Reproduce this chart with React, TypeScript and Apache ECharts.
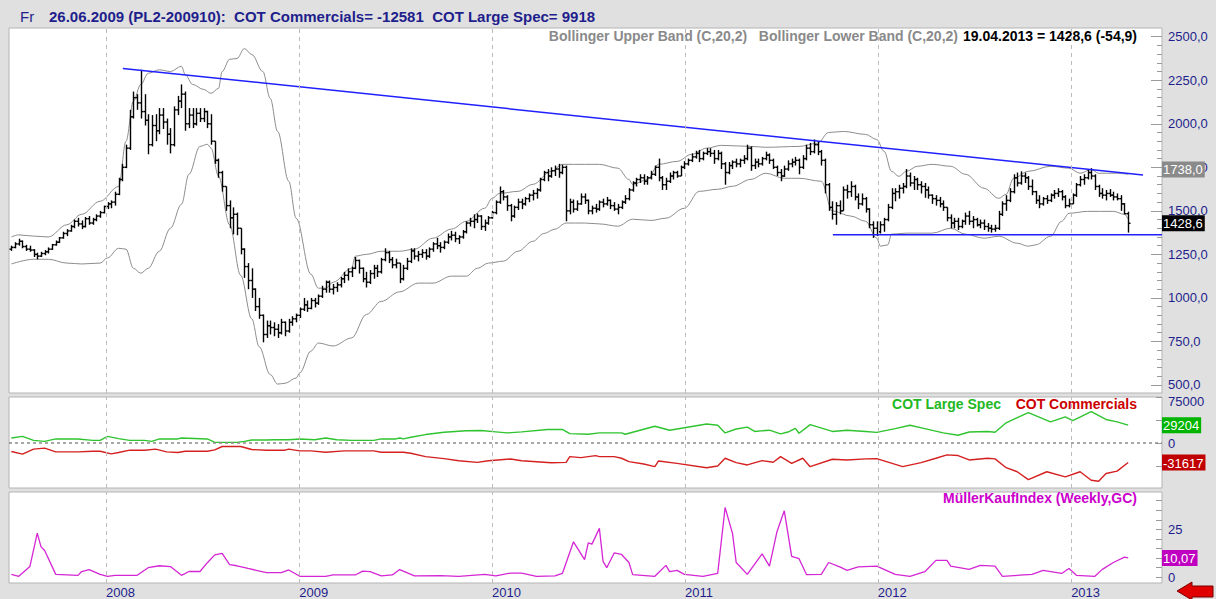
import React, { useEffect, useRef } from 'react';
import * as echarts from 'echarts';

// ---------- data ----------
const FIRST_WEEK = Date.UTC(2007, 6, 6); // Friday 06.07.2007
const DAY = 86400000;
const weekTime = (i: number) => FIRST_WEEK + i * 7 * DAY;

const openP = [
  1280,1290,1310,1325,1295,1280,1275,1250,1240,1255,1265,1280,1305,
  1320,1345,1370,1385,1410,1440,1425,1410,1455,1430,1450,1470,1490,
  1525,1540,1550,1595,1680,1750,1860,2040,2150,2120,2070,2020,1880,
  1990,1960,2050,2010,1940,1880,2080,2130,2170,2000,2050,2000,2060,
  2030,2070,2000,1900,1790,1720,1640,1530,1460,1480,1400,1280,1180,
  1100,1050,950,900,790,840,830,820,800,860,810,860,880,
  900,935,960,940,985,970,1010,1050,1090,1050,1060,1075,1110,
  1130,1150,1170,1215,1170,1110,1090,1140,1170,1150,1220,1260,1220,
  1190,1200,1110,1170,1210,1270,1240,1250,1260,1240,1280,1310,1300,
  1290,1320,1350,1360,1340,1350,1380,1430,1440,1450,1470,1410,1430,
  1460,1490,1550,1610,1580,1530,1470,1520,1550,1540,1570,1590,1600,
  1620,1680,1720,1700,1730,1740,1720,1750,1500,1550,1510,1540,1580,
  1560,1500,1515,1510,1550,1540,1560,1530,1510,1520,1550,1570,1620,
  1660,1680,1690,1670,1690,1710,1750,1690,1650,1670,1700,1720,1700,
  1750,1770,1790,1810,1830,1800,1830,1840,1830,1800,1830,1770,1720,
  1760,1780,1770,1790,1800,1860,1760,1780,1770,1800,1820,1790,1750,
  1720,1700,1740,1770,1780,1790,1750,1800,1860,1840,1880,1840,1790,
  1650,1520,1480,1530,1500,1620,1610,1640,1580,1540,1570,1510,1420,
  1400,1380,1420,1450,1520,1600,1610,1630,1640,1700,1660,1680,1650,
  1640,1620,1590,1570,1560,1540,1520,1460,1430,1440,1410,1440,1470,
  1440,1450,1420,1430,1410,1400,1395,1400,1480,1540,1560,1610,1690,
  1660,1700,1690,1640,1610,1560,1540,1570,1560,1590,1600,1610,1580,
  1530,1540,1590,1650,1680,1690,1720,1700,1640,1600,1590,1600,1590,
  1580,1570,1540,1483.5,
];
const highP = [
  1300,1320,1340,1330,1305,1300,1280,1260,1265,1275,1290,1310,1330,
  1350,1380,1395,1420,1450,1460,1445,1465,1470,1460,1480,1500,1530,
  1550,1560,1610,1690,1770,1880,2080,2185,2170,2310,2170,2055,2050,
  2055,2090,2090,2030,1975,2100,2160,2226,2185,2090,2090,2090,2090,
  2090,2075,2055,1900,1800,1730,1640,1560,1520,1490,1400,1285,1200,
  1170,1055,1000,905,870,870,860,850,880,865,880,895,910,
  945,1000,985,1000,1000,1020,1070,1100,1100,1080,1090,1120,1150,
  1170,1180,1235,1220,1175,1150,1160,1190,1190,1230,1285,1270,1235,
  1225,1200,1190,1230,1285,1285,1270,1280,1280,1290,1320,1345,1320,
  1330,1370,1385,1380,1360,1390,1440,1460,1480,1485,1475,1450,1470,
  1500,1560,1640,1620,1590,1540,1530,1570,1570,1580,1600,1620,1630,
  1690,1730,1740,1750,1760,1770,1765,1760,1570,1565,1560,1600,1600,
  1565,1530,1540,1560,1570,1580,1565,1550,1540,1560,1590,1630,1670,
  1690,1710,1710,1700,1730,1760,1800,1700,1690,1720,1730,1730,1760,
  1785,1800,1830,1845,1850,1840,1860,1860,1850,1850,1840,1780,1780,
  1790,1800,1800,1820,1880,1870,1800,1800,1810,1840,1830,1800,1760,
  1740,1760,1790,1800,1810,1800,1820,1880,1890,1910,1900,1850,1800,
  1660,1555,1550,1560,1640,1650,1670,1650,1600,1600,1580,1515,1440,
  1440,1440,1460,1540,1630,1630,1650,1660,1740,1720,1700,1690,1670,
  1660,1640,1595,1590,1580,1560,1520,1480,1460,1460,1450,1490,1500,
  1470,1460,1450,1450,1430,1420,1420,1500,1555,1590,1630,1710,1720,
  1727,1720,1700,1680,1615,1590,1580,1590,1600,1620,1630,1620,1590,
  1570,1600,1660,1700,1710,1740,1745,1710,1650,1630,1620,1625,1610,
  1600,1590,1545,1495,
];
const lowP = [
  1270,1285,1300,1285,1270,1265,1235,1222,1235,1245,1255,1275,1300,
  1315,1340,1355,1380,1400,1410,1395,1405,1420,1420,1440,1460,1485,
  1510,1515,1530,1590,1670,1745,1850,2030,2080,2030,1990,1825,1870,
  1900,1940,1970,1880,1830,1870,2050,2090,1960,1975,1975,1990,2010,
  2010,1975,1880,1770,1690,1610,1500,1400,1365,1360,1250,1115,1050,
  1000,925,880,745,770,790,780,770,790,780,800,840,860,
  885,925,920,935,945,960,1000,1030,1030,1020,1035,1060,1085,
  1100,1120,1165,1140,1090,1060,1080,1110,1120,1140,1210,1200,1170,
  1170,1085,1100,1160,1200,1220,1210,1230,1220,1230,1265,1280,1260,
  1280,1310,1330,1320,1310,1340,1370,1410,1400,1430,1390,1385,1420,
  1455,1480,1540,1560,1500,1440,1460,1505,1510,1530,1550,1560,1570,
  1610,1670,1670,1690,1700,1690,1710,1440,1480,1490,1500,1535,1540,
  1480,1480,1490,1500,1520,1530,1510,1500,1480,1510,1540,1560,1610,
  1640,1660,1650,1650,1680,1700,1670,1620,1620,1660,1680,1690,1700,
  1740,1760,1780,1800,1780,1790,1820,1810,1770,1790,1740,1650,1710,
  1740,1750,1750,1770,1790,1730,1740,1750,1760,1790,1770,1740,1700,
  1670,1695,1730,1750,1760,1710,1740,1790,1820,1830,1820,1760,1600,
  1500,1450,1420,1480,1500,1570,1580,1560,1510,1530,1490,1400,1345,
  1355,1370,1380,1440,1510,1555,1570,1600,1630,1640,1620,1620,1600,
  1575,1570,1540,1530,1520,1500,1440,1400,1400,1390,1400,1420,1420,
  1400,1410,1400,1390,1380,1375,1380,1390,1470,1500,1550,1600,1640,
  1650,1660,1620,1590,1540,1515,1530,1540,1550,1570,1580,1560,1515,
  1520,1540,1580,1640,1650,1680,1680,1620,1580,1570,1560,1580,1560,
  1560,1500,1480,1375,
];
const closeP = [
  1290,1310,1325,1295,1280,1275,1250,1240,1255,1265,1280,1305,1320,
  1345,1370,1385,1410,1440,1425,1410,1455,1430,1450,1470,1490,1525,
  1540,1550,1595,1680,1750,1860,2040,2150,2120,2070,2020,1880,1990,
  1960,2050,2010,1940,1880,2080,2130,2170,2000,2050,2000,2060,2030,
  2070,2000,1900,1790,1720,1640,1530,1460,1480,1400,1280,1180,1100,
  1050,950,900,790,840,830,820,800,860,810,860,880,900,
  935,960,940,985,970,1010,1050,1090,1050,1060,1075,1110,1130,
  1150,1170,1215,1170,1110,1090,1140,1170,1150,1220,1260,1220,1190,
  1200,1110,1170,1210,1270,1240,1250,1260,1240,1280,1310,1300,1290,
  1320,1350,1360,1340,1350,1380,1430,1440,1450,1470,1410,1430,1460,
  1490,1550,1610,1580,1530,1470,1520,1550,1540,1570,1590,1600,1620,
  1680,1720,1700,1730,1740,1720,1750,1500,1550,1510,1540,1580,1560,
  1500,1515,1510,1550,1540,1560,1530,1510,1520,1550,1570,1620,1660,
  1680,1690,1670,1690,1710,1750,1690,1650,1670,1700,1720,1700,1750,
  1770,1790,1810,1830,1800,1830,1840,1830,1800,1830,1770,1720,1760,
  1780,1770,1790,1800,1860,1760,1780,1770,1800,1820,1790,1750,1720,
  1700,1740,1770,1780,1790,1750,1800,1860,1840,1880,1840,1790,1650,
  1520,1480,1530,1500,1620,1610,1640,1580,1540,1570,1510,1420,1400,
  1380,1420,1450,1520,1600,1610,1630,1640,1700,1660,1680,1650,1640,
  1620,1590,1570,1560,1540,1520,1460,1430,1440,1410,1440,1470,1440,
  1450,1420,1430,1410,1400,1395,1400,1480,1540,1560,1610,1690,1660,
  1700,1690,1640,1610,1560,1540,1570,1560,1590,1600,1610,1580,1530,
  1540,1590,1650,1680,1690,1720,1700,1640,1600,1590,1600,1590,1580,
  1570,1540,1483.5,1428.6,
];

// Bollinger bands: [week index, value]
const upperBand: [number, number][] = [
  [0,1350],[2,1362],[6,1355],[10,1350],[15,1420],[19,1480],[24,1555],[29,1640],[31,1900],[33,2130],
  [35,2226],[37,2290],[40,2310],[43,2300],[46,2330],[47,2283],[49,2226],[52,2197],[54,2175],[56,2203],
  [57,2300],[59,2370],[61,2375],[63,2432],[65,2398],[68,2300],[70,2146],[72,1956],[75,1670],[77,1458],
  [81,1136],[83,1056],[85,1056],[87,1090],[92,1170],[93,1240],[96,1250],[100,1268],[105,1268],[109,1280],
  [114,1343],[119,1395],[123,1440],[128,1515],[130,1572],[132,1600],[137,1612],[141,1652],[146,1727],[149,1767],
  [155,1767],[159,1767],[164,1745],[167,1680],[168,1652],[172,1680],[175,1767],[180,1784],[184,1825],[188,1860],
  [192,1876],[200,1870],[204,1865],[213,1870],[218,1888],[221,1950],[225,1956],[231,1939],[234,1910],[236,1842],
  [238,1727],[240,1698],[242,1727],[245,1756],[249,1767],[254,1756],[258,1710],[263,1630],[267,1572],[269,1595],
  [271,1687],[275,1727],[281,1756],[286,1745],[289,1716],[292,1738],[294,1716],[299,1716],[302,1710],
];
const lowerBand: [number, number][] = [
  [0,1195],[6,1222],[10,1222],[15,1200],[19,1195],[24,1200],[26,1230],[29,1285],[31,1280],[33,1170],
  [35,1142],[37,1170],[40,1268],[43,1400],[46,1538],[48,1710],[51,1870],[53,1882],[54,1860],[56,1700],
  [59,1420],[62,1130],[65,880],[67,720],[70,560],[72,505],[74,510],[77,540],[78,570],[81,695],
  [83,741],[87,724],[92,770],[96,905],[100,980],[105,1035],[110,1085],[114,1085],[119,1125],[123,1125],
  [126,1170],[129,1200],[133,1211],[137,1268],[141,1325],[144,1370],[147,1395],[150,1430],[155,1430],[159,1425],
  [164,1412],[168,1452],[173,1445],[177,1458],[182,1515],[186,1612],[191,1624],[195,1641],[200,1681],[204,1716],
  [209,1687],[213,1687],[219,1670],[222,1500],[227,1470],[231,1440],[234,1343],[235,1297],[237,1305],[238,1366],
  [242,1372],[249,1372],[254,1400],[258,1366],[263,1343],[267,1354],[272,1314],[275,1297],[277,1305],[281,1354],
  [284,1440],[286,1486],[291,1497],[298,1497],[301,1480],[302,1452],
];

// Trend lines
const resistanceDates = ['2008-02-02', '2013-05-17'];
const resistanceValues = [2318, 1706];
const supportDates = ['2011-10-08', '2013-06-22'];
const supportValues = [1363, 1363];

// COT (weekly index, contracts)
const cotLargeSpec: [number, number][] = [
  [0,8400],[3,11000],[6,4400],[9,2800],[12,6800],[18,6800],[22,4400],[24,4400],[26,11000],[29,7300],
  [32,4400],[36,4400],[38,2800],[40,6800],[45,6800],[46,8400],[53,6800],[55,1200],[61,1200],[63,2800],
  [65,5000],[69,5000],[71,5500],[75,5500],[78,6800],[82,5500],[85,8400],[88,5500],[92,4400],[98,4400],
  [100,6800],[104,6800],[105,8400],[106,6800],[108,9500],[112,13900],[117,17700],[123,20000],[127,20500],[131,18300],
  [134,16600],[138,18300],[145,22200],[149,22200],[151,15500],[156,14400],[159,16600],[165,16600],[166,14400],[170,21000],
  [174,27400],[178,21000],[182,25000],[188,31000],[191,29000],[193,16600],[196,23000],[199,26000],[201,19000],[205,21000],
  [208,15000],[210,18000],[212,24000],[213,16000],[216,30000],[222,19000],[226,21000],[231,19000],[234,17500],[239,23500],
  [243,29000],[247,23500],[252,16600],[256,12800],[259,18000],[264,19000],[266,17700],[269,33000],[272,41300],[275,49500],
  [281,34600],[285,42800],[287,36700],[292,51100],[296,38500],[299,34600],[302,29204],
];
const cotCommercials: [number, number][] = [
  [0,-13700],[3,-18000],[6,-9800],[9,-8200],[12,-14300],[18,-14300],[22,-13200],[24,-13200],[27,-17500],[29,-15300],
  [32,-11500],[36,-11500],[39,-9800],[42,-14300],[45,-15300],[47,-13200],[53,-13200],[55,-11000],[57,-5500],[62,-5500],
  [65,-10400],[69,-11500],[74,-11500],[75,-9800],[78,-12600],[81,-12600],[85,-14800],[90,-12600],[98,-12600],[100,-14800],
  [106,-14800],[108,-16500],[112,-22000],[117,-25300],[121,-28600],[126,-31300],[129,-28600],[135,-25800],[138,-28600],[146,-31900],
  [150,-31300],[151,-22000],[154,-23600],[158,-20400],[159,-21900],[163,-21900],[165,-24600],[167,-30100],[171,-33900],[174,-38300],
  [175,-29000],[180,-32900],[188,-40000],[191,-37200],[193,-24600],[196,-31700],[199,-35500],[203,-28400],[206,-31200],[208,-21900],
  [211,-32900],[214,-24600],[216,-38300],[222,-26300],[226,-27400],[231,-25700],[234,-25200],[241,-38300],[246,-31700],[250,-24600],
  [253,-19100],[256,-20200],[259,-27400],[264,-24600],[266,-25700],[269,-40000],[272,-46600],[275,-59300],[280,-46600],[285,-54800],
  [289,-46600],[292,-60300],[294,-62000],[296,-49400],[299,-45500],[302,-31617],
];

// MüllerKaufIndex
const mki: [number, number][] = [
  [0,1.5],[2,0.5],[5,5.6],[7,23],[8,16],[9,14],[12,1.5],[18,1],[19,3],[21,4],
  [24,1.5],[26,0.5],[28,1],[34,1],[37,5],[40,6],[43,5.6],[46,1],[48,3],[51,3],
  [53,7.6],[55,11.7],[57,12.5],[59,6.6],[61,6],[64,4.6],[69,2.4],[73,2.4],[75,3.8],[78,0.5],
  [85,0.5],[87,1.2],[93,1.2],[95,3.2],[97,2.9],[100,0.7],[103,1.2],[105,4],[109,0.7],[116,0.9],
  [121,0.5],[128,1.5],[131,0.7],[135,2.2],[138,2.2],[142,0.5],[147,0.7],[149,2],[152,18.5],[155,9.2],
  [156,17.9],[157,17.3],[159,25.5],[160,8.3],[161,5],[163,12.7],[165,11.9],[167,7.7],[168,1.4],[174,0.5],
  [177,6.2],[178,2.9],[180,3.6],[182,1.5],[187,0.5],[191,2],[193,36.4],[195,22.9],[196,7.7],[199,1.5],
  [203,12.2],[205,5.8],[207,23.6],[209,34.7],[211,10.9],[213,9.7],[215,1.4],[219,1.5],[221,7.7],[224,5.4],
  [226,3.6],[229,5.4],[234,5.8],[239,1.5],[243,0.5],[247,2.9],[250,8.8],[253,8.8],[254,5.8],[259,4.1],
  [262,6.2],[266,5.8],[268,0.5],[276,1.5],[279,3.6],[284,2],[286,4.6],[288,1],[293,0.5],[295,4.1],
  [298,7.7],[301,10.5],[302,10.07],
];

const years = [2008, 2009, 2010, 2011, 2012, 2013];
const priceTicks = [500, 750, 1000, 1250, 1500, 1750, 2000, 2250, 2500];
const priceMinorTicks = Array.from({ length: 41 }, (_, k) => 500 + k * 50);
const priceBoxValues = [1738.0, 1428.6];
const priceBoxColors = ['#8a8a8a', '#000000'];
const cotTicks = [75000, 37500, 0, -37500];
const cotLabels = [75000, 0];
const cotBoxValues = [29204, -31617];
const cotBoxColors = ['#00b400', '#c00000'];
const mkiTicks = [0, 5, 10, 15, 20, 25, 30, 35, 40];
const mkiLabels = [0, 25];
const mkiBoxValues = [10.07];
const mkiBoxColors = ['#c000c0'];

// ---------- styling ----------
const FONT = "'Liberation Sans', Arial, sans-serif";
const NAVY = '#1e1e8c';
const BG = '#e0e0e0';
const X_MIN = Date.UTC(2007, 6, 1, 12);
const X_MAX = Date.UTC(2013, 5, 22);
const yearTimes = years.map((y) => Date.UTC(y, 0, 1));
const fmt1 = (v: number) => v.toFixed(1).replace('.', ',');
const fmt2 = (v: number) => v.toFixed(2).replace('.', ',');

const boxRich = (colors: string[]) => {
  const r: Record<string, any> = {};
  colors.forEach((c, i) => {
    r['b' + i] = { backgroundColor: c, color: '#fff', fontSize: 13, fontFamily: FONT, padding: [2, 2, 1, 1] };
  });
  return r;
};
const boxFormatter = (vals: number[], f: (v: number) => string) => (v: number) => {
  let idx = 0;
  let best = Infinity;
  vals.forEach((b, i) => {
    const d = Math.abs(b - v);
    if (d < best) { best = d; idx = i; }
  });
  return `{b${idx}|${f(vals[idx])}}`;
};

const yearMarkLine = {
  silent: true,
  symbol: ['none', 'none'],
  label: { show: false },
  lineStyle: { color: '#bcbcbc', type: [4, 4], width: 1 },
  data: yearTimes.map((t) => ({ xAxis: t })),
};

const textEl = (text: string, x: number, y: number, fill: string, font: string, align = 'left') => ({
  type: 'text',
  x,
  y,
  silent: true,
  style: {
    text,
    fill,
    font,
    textAlign: align,
    align,
    textVerticalAlign: 'middle',
    verticalAlign: 'middle',
  },
});

export default function App() {
  const ref = useRef<HTMLDivElement>(null);
  useEffect(() => {
    if (!ref.current) return;
    const chart = echarts.init(ref.current, undefined, { renderer: 'svg' });

    const ohlcData = closeP.map((c, i) => [weekTime(i), openP[i], highP[i], lowP[i], c]);
    const toSeries = (arr: [number, number][]) => arr.map(([w, v]) => [weekTime(w), v]);

    const gridBase = { show: true, backgroundColor: '#ffffff', borderColor: '#b4b4b4', borderWidth: 1, containLabel: false };
    const xBase = (gi: number, showLabel: boolean) => ({
      type: 'value',
      gridIndex: gi,
      min: X_MIN,
      max: X_MAX,
      axisLine: { show: false },
      axisTick: { show: false },
      splitLine: { show: false },
      axisLabel: showLabel
        ? {
            show: true,
            customValues: yearTimes,
            formatter: (v: number) => String(new Date(v).getUTCFullYear()),
            align: 'left',
            margin: 3,
            color: NAVY,
            fontSize: 13,
            fontFamily: FONT,
          }
        : { show: false },
    });
    const tickStyle = { color: '#9a9a9a', width: 1 };

    const option: any = {
      animation: false,
      backgroundColor: BG,
      grid: [
        { ...gridBase, left: 9, top: 28, width: 1153, height: 365 },
        { ...gridBase, left: 9, top: 397, width: 1153, height: 91 },
        { ...gridBase, left: 9, top: 492, width: 1153, height: 92 },
      ],
      xAxis: [xBase(0, false), xBase(1, false), xBase(2, true)],
      yAxis: [
        {
          type: 'value', gridIndex: 0, position: 'right', min: 454, max: 2550,
          axisLine: { show: false }, splitLine: { show: false },
          axisTick: { show: true, inside: true, length: 11, customValues: priceTicks, lineStyle: tickStyle },
          axisLabel: { customValues: priceTicks, formatter: (v: number) => fmt1(v), margin: 6, color: NAVY, fontSize: 13, fontFamily: FONT },
        },
        {
          type: 'value', gridIndex: 0, position: 'right', min: 454, max: 2550,
          axisLine: { show: false }, splitLine: { show: false },
          axisTick: { show: true, inside: true, length: 5, customValues: priceMinorTicks, lineStyle: tickStyle },
          axisLabel: { show: false },
        },
        {
          type: 'value', gridIndex: 0, position: 'right', min: 454, max: 2550, z: 5,
          axisLine: { show: false }, splitLine: { show: false }, axisTick: { show: false },
          axisLabel: { customValues: priceBoxValues, formatter: boxFormatter(priceBoxValues, fmt1), margin: 0, rich: boxRich(priceBoxColors) },
        },
        {
          type: 'value', gridIndex: 1, position: 'right', min: -73000, max: 75000,
          axisLine: { show: false }, splitLine: { show: false },
          axisTick: { show: true, inside: true, length: 6, customValues: cotTicks, lineStyle: tickStyle },
          axisLabel: {
            customValues: cotLabels,
            formatter: (v: number) => (v === 75000 ? '{t|75000}' : String(v)),
            rich: { t: { padding: [8, 0, 0, 0], color: NAVY, fontSize: 13, fontFamily: FONT } },
            margin: 6, color: NAVY, fontSize: 13, fontFamily: FONT,
          },
        },
        {
          type: 'value', gridIndex: 1, position: 'right', min: -73000, max: 75000, z: 5,
          axisLine: { show: false }, splitLine: { show: false }, axisTick: { show: false },
          axisLabel: { customValues: cotBoxValues, formatter: boxFormatter(cotBoxValues, (v) => String(v)), margin: 0, rich: boxRich(cotBoxColors) },
        },
        {
          type: 'value', gridIndex: 2, position: 'right', min: -3, max: 44.5,
          axisLine: { show: false }, splitLine: { show: false },
          axisTick: { show: true, inside: true, length: 6, customValues: mkiTicks, lineStyle: tickStyle },
          axisLabel: { customValues: mkiLabels, formatter: (v: number) => String(v), margin: 6, color: NAVY, fontSize: 13, fontFamily: FONT },
        },
        {
          type: 'value', gridIndex: 2, position: 'right', min: -3, max: 44.5, z: 5,
          axisLine: { show: false }, splitLine: { show: false }, axisTick: { show: false },
          axisLabel: { customValues: mkiBoxValues, formatter: boxFormatter(mkiBoxValues, fmt2), margin: 0, rich: boxRich(mkiBoxColors) },
        },
      ],
      series: [
        {
          type: 'custom',
          name: 'PL2',
          xAxisIndex: 0,
          yAxisIndex: 0,
          clip: true,
          encode: { x: 0, y: [1, 2, 3, 4] },
          data: ohlcData,
          renderItem: (params: any, api: any) => {
            const t = api.value(0);
            const ph = api.coord([t, api.value(2)]);
            const pl = api.coord([t, api.value(3)]);
            const po = api.coord([t, api.value(1)]);
            const pc = api.coord([t, api.value(4)]);
            const x = Math.round(ph[0]) + 0.5;
            const st = { stroke: '#000000', lineWidth: 1.4 };
            return {
              type: 'group',
              children: [
                { type: 'line', shape: { x1: x, y1: ph[1], x2: x, y2: pl[1] }, style: st },
                { type: 'line', shape: { x1: x - 2, y1: po[1], x2: x, y2: po[1] }, style: st },
                { type: 'line', shape: { x1: x, y1: pc[1], x2: x + 2, y2: pc[1] }, style: st },
              ],
            };
          },
          markLine: yearMarkLine,
          z: 3,
        },
        {
          type: 'line', name: 'Bollinger Upper Band (C,20,2)', xAxisIndex: 0, yAxisIndex: 0,
          data: toSeries(upperBand), smooth: 0.35, smoothMonotone: 'x', showSymbol: false, symbol: 'none',
          lineStyle: { color: '#8c8c8c', width: 1 }, z: 2,
        },
        {
          type: 'line', name: 'Bollinger Lower Band (C,20,2)', xAxisIndex: 0, yAxisIndex: 0,
          data: toSeries(lowerBand), smooth: 0.35, smoothMonotone: 'x', showSymbol: false, symbol: 'none',
          lineStyle: { color: '#8c8c8c', width: 1 }, z: 2,
        },
        {
          type: 'line', name: 'Resistance', xAxisIndex: 0, yAxisIndex: 0,
          data: resistanceDates.map((d, i) => [Date.parse(d), resistanceValues[i]]),
          showSymbol: false, symbol: 'none', lineStyle: { color: '#1f1fff', width: 1.5 }, z: 4,
        },
        {
          type: 'line', name: 'Support', xAxisIndex: 0, yAxisIndex: 0,
          data: supportDates.map((d, i) => [Date.parse(d), supportValues[i]]),
          showSymbol: false, symbol: 'none', lineStyle: { color: '#1f1fff', width: 1.5 }, z: 4,
        },
        {
          type: 'line', name: 'COT Large Spec', xAxisIndex: 1, yAxisIndex: 3,
          data: toSeries(cotLargeSpec), showSymbol: false, symbol: 'none',
          lineStyle: { color: '#2fc42f', width: 1.4 }, z: 3,
          markLine: {
            ...yearMarkLine,
            data: [
              ...yearTimes.map((t) => ({ xAxis: t })),
              { yAxis: 0, lineStyle: { color: '#8a8a8a', type: [3, 3], width: 1.5 } },
            ],
          },
        },
        {
          type: 'line', name: 'COT Commercials', xAxisIndex: 1, yAxisIndex: 3,
          data: toSeries(cotCommercials), showSymbol: false, symbol: 'none',
          lineStyle: { color: '#d42020', width: 1.4 }, z: 3,
        },
        {
          type: 'line', name: 'MüllerKaufIndex (Weekly,GC)', xAxisIndex: 2, yAxisIndex: 5,
          data: toSeries(mki), showSymbol: false, symbol: 'none',
          lineStyle: { color: '#d426d4', width: 1.3 }, z: 3,
          markLine: yearMarkLine,
        },
      ],
      graphic: [
        textEl('Fr', 20, 16, NAVY, `15px ${FONT}`),
        textEl('26.06.2009 (PL2-200910):\u00a0\u00a0COT Commercials= -12581\u00a0\u00a0COT Large Spec= 9918', 49, 16, NAVY, `bold 15px ${FONT}`),
        textEl('Bollinger Upper Band (C,20,2)\u00a0\u00a0\u00a0Bollinger Lower Band (C,20,2)', 958, 36, '#8a8a8a', `bold 14px ${FONT}`, 'right'),
        textEl('19.04.2013 = 1428,6 (-54,9)', 1137, 36, '#000000', `bold 14px ${FONT}`, 'right'),
        textEl('COT Large Spec', 1001, 404, '#22b822', `bold 14px ${FONT}`, 'right'),
        textEl('COT Commercials', 1137, 404, '#cc0000', `bold 14px ${FONT}`, 'right'),
        textEl('MüllerKaufIndex (Weekly,GC)', 1137, 498, '#cc00cc', `bold 14px ${FONT}`, 'right'),
        {
          type: 'polygon',
          silent: true,
          shape: { points: [[1177, 591], [1192, 582], [1192, 586], [1213, 586], [1213, 597], [1192, 597], [1192, 600]] },
          style: { fill: '#e00000', stroke: '#7a0000', lineWidth: 1 },
        },
      ],
    };

    chart.setOption(option);
    return () => chart.dispose();
  }, []);

  return <div ref={ref} style={{ position: 'absolute', left: 0, top: 0, width: 1216, height: 599 }} />;
}
